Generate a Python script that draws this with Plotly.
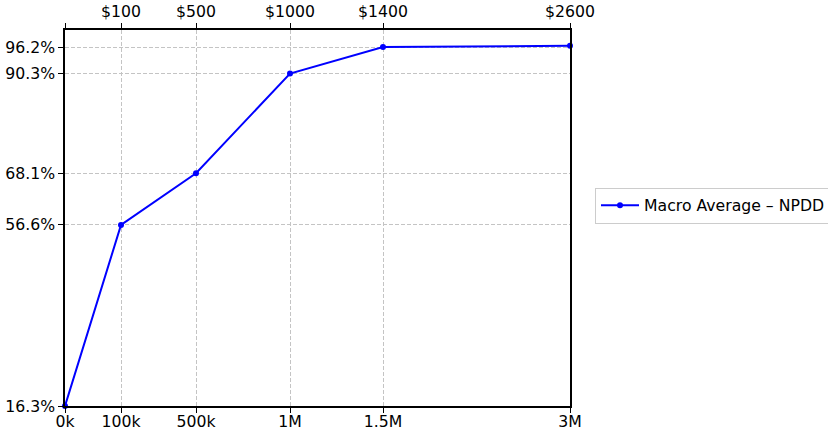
import plotly.graph_objects as go

# Data
sample_labels = ["0k", "100k", "500k", "1M", "1.5M", "3M"]
cost_labels = ["", "$100", "$500", "$1000", "$1400", "$2600"]
macro_avg_npdd = [16.3, 56.6, 68.1, 90.3, 96.2, 96.5]
y_tick_values = [16.3, 56.6, 68.1, 90.3, 96.2]
# horizontal placement of each category on the axis (non-uniform spacing)
x_positions = [0, 56, 131, 225, 318, 505]

FONT = dict(family="DejaVu Sans", size=15.7, color="black")
GRID = "#c4c4c4"

fig = go.Figure()
fig.add_trace(go.Scatter(
    x=x_positions, y=macro_avg_npdd,
    mode="lines+markers",
    name="Macro Average \u2013 NPDD",
    line=dict(color="#0000ff", width=2),
    marker=dict(color="#0000ff", size=6),
    cliponaxis=False,
))
# invisible trace to activate top axis
fig.add_trace(go.Scatter(
    x=x_positions, y=macro_avg_npdd, xaxis="x2", mode="lines",
    line=dict(width=0), showlegend=False, hoverinfo="skip", opacity=0,
))

xr = [x_positions[0], x_positions[-1]]
fig.update_layout(
    width=828, height=430,
    margin=dict(l=65, r=258, t=30, b=24, autoexpand=False),
    paper_bgcolor="white", plot_bgcolor="white",
    font=FONT,
    showlegend=True,
    legend=dict(
        xref="container", yref="container",
        x=595 / 828, y=1 - 205.5 / 430, xanchor="left", yanchor="middle",
        bordercolor="#cccccc", borderwidth=1, bgcolor="white",
        itemwidth=38,
        font=dict(family="DejaVu Sans", size=15.7, color="black"),
    ),
    xaxis=dict(
        range=xr, tickmode="array", tickvals=x_positions, ticktext=sample_labels,
        showline=True, linecolor="black", linewidth=1.5, mirror=False,
        ticks="outside", ticklen=5, tickcolor="black",
        showgrid=True, gridcolor=GRID, griddash="4px,2px", gridwidth=1,
        zeroline=False, automargin=False, ticklabelstandoff=-5,
    ),
    xaxis2=dict(
        range=xr, overlaying="x", side="top", tickmode="array",
        tickvals=x_positions, ticktext=cost_labels,
        showline=True, linecolor="black", linewidth=1.5,
        ticks="outside", ticklen=5, tickcolor="black",
        showgrid=False, zeroline=False, automargin=False,
    ),
    yaxis=dict(
        range=[16.3, 100], tickmode="array", tickvals=y_tick_values,
        ticktext=[f"{v:.1f}%" for v in y_tick_values],
        showline=True, linecolor="black", linewidth=1.5, mirror=True,
        ticks="outside", ticklen=5, tickcolor="black",
        showgrid=True, gridcolor=GRID, griddash="4px,2px", gridwidth=1,
        zeroline=False, automargin=False,
    ),
)

fig.write_html("out.html")
